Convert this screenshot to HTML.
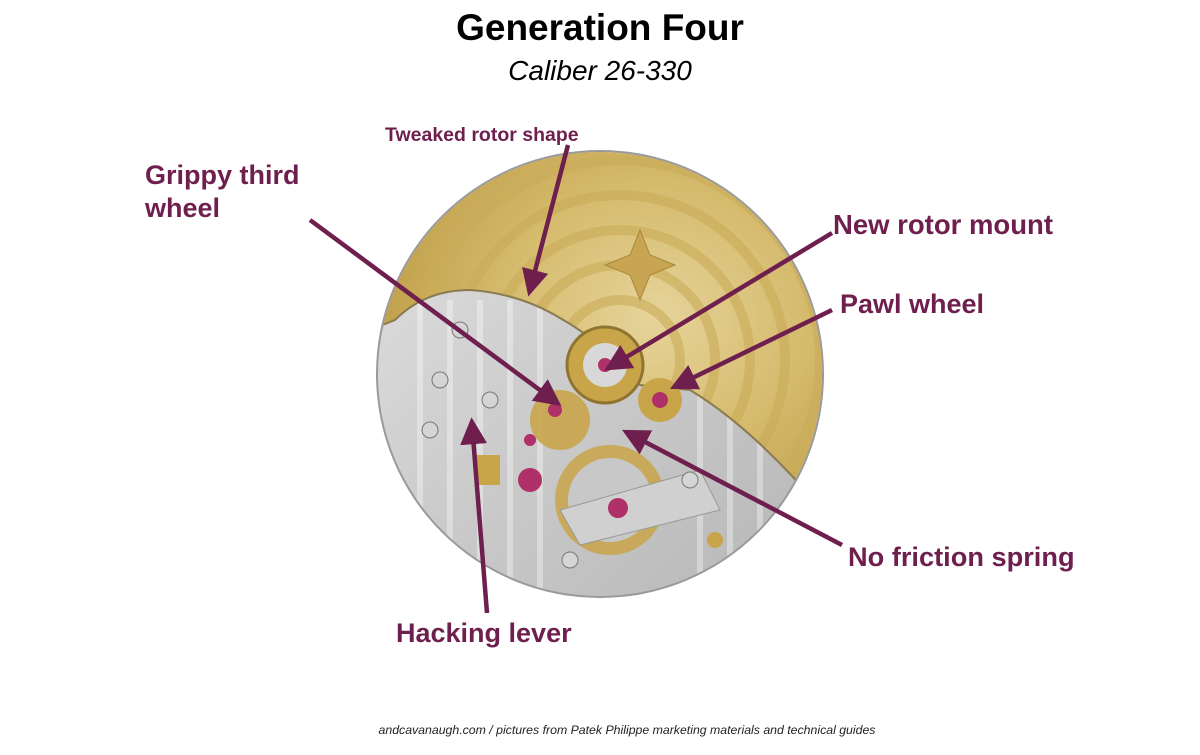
<!DOCTYPE html>
<html><head><meta charset="utf-8"><style>
html,body{margin:0;padding:0;background:#fff;}
body{width:1200px;height:750px;overflow:hidden;font-family:"Liberation Sans",sans-serif;}
</style></head><body>
<svg width="1200" height="750" viewBox="0 0 1200 750" xmlns="http://www.w3.org/2000/svg">
<defs>
<radialGradient id="gold" cx="0.62" cy="0.42" r="0.7">
<stop offset="0" stop-color="#e6d49a"/><stop offset="0.5" stop-color="#d4b96a"/><stop offset="1" stop-color="#b8963f"/>
</radialGradient>
<linearGradient id="silver" x1="0" y1="0" x2="1" y2="1">
<stop offset="0" stop-color="#e2e2e2"/><stop offset="0.5" stop-color="#cacaca"/><stop offset="1" stop-color="#b5b5b5"/>
</linearGradient>
<clipPath id="dial"><circle cx="600" cy="374" r="222"/></clipPath>
<clipPath id="rotor"><path d="M370,150 L830,150 L830,520 C790,470 740,420 690,390 L640,385 C620,360 590,335 560,318 C530,300 500,292 470,290 C440,290 415,300 395,320 L370,330 Z"/></clipPath>
<marker id="ah" markerWidth="6" markerHeight="6" refX="4.5" refY="3" orient="auto" markerUnits="strokeWidth">
<path d="M0,0 L6,3 L0,6 z" fill="#6e1f4e"/></marker>
</defs>

<text x="600" y="40" text-anchor="middle" font-size="37" font-weight="bold" fill="#000">Generation Four</text>
<text x="600" y="80" text-anchor="middle" font-size="28" font-style="italic" fill="#000">Caliber 26-330</text>

<circle cx="600" cy="374" r="224" fill="#9a9a9a"/>
<g clip-path="url(#dial)">
<rect x="370" y="150" width="460" height="460" fill="url(#silver)"/>
<g stroke="#ffffff" stroke-opacity="0.35" stroke-width="6">
<line x1="420" y1="300" x2="420" y2="600"/><line x1="450" y1="300" x2="450" y2="600"/>
<line x1="480" y1="300" x2="480" y2="600"/><line x1="510" y1="300" x2="510" y2="600"/>
<line x1="540" y1="300" x2="540" y2="600"/><line x1="700" y1="380" x2="700" y2="600"/>
<line x1="730" y1="380" x2="730" y2="600"/><line x1="760" y1="380" x2="760" y2="600"/>
</g>
<g clip-path="url(#rotor)">
<rect x="370" y="150" width="460" height="400" fill="url(#gold)"/>
<g fill="none" stroke="#c9ab58" stroke-width="10" stroke-opacity="0.6">
<circle cx="620" cy="360" r="60"/><circle cx="620" cy="360" r="95"/><circle cx="620" cy="360" r="130"/><circle cx="620" cy="360" r="165"/><circle cx="620" cy="360" r="200"/>
</g>
</g>
<path d="M830,520 C790,470 740,420 690,390 L640,385 C620,360 590,335 560,318 C530,300 500,292 470,290 C440,290 415,300 395,320 L370,330" fill="none" stroke="#8a7a50" stroke-width="2"/>
<path d="M640,230 l10,25 l25,10 l-25,10 l-10,25 l-10,-25 l-25,-10 l25,-10z" fill="#c7a552" stroke="#a88838"/>
<circle cx="605" cy="365" r="38" fill="#c9a54a" stroke="#8f7430" stroke-width="3"/>
<circle cx="605" cy="365" r="22" fill="#d8d8d8"/>
<circle cx="605" cy="365" r="7" fill="#b0306a"/>
<circle cx="660" cy="400" r="22" fill="#c9a54a"/><circle cx="660" cy="400" r="8" fill="#b0306a"/>
<circle cx="560" cy="420" r="30" fill="#c9a54a" opacity="0.9"/><circle cx="555" cy="410" r="7" fill="#b0306a"/>
<circle cx="610" cy="500" r="55" fill="#c9a54a" opacity="0.85"/>
<circle cx="610" cy="500" r="42" fill="#c8c8c8"/>
<path d="M560,510 L700,470 L720,510 L580,545z" fill="#d0d0d0" stroke="#999"/>
<circle cx="618" cy="508" r="10" fill="#b0306a"/>
<circle cx="530" cy="480" r="12" fill="#b0306a"/>
<circle cx="530" cy="440" r="6" fill="#b0306a"/>
<rect x="475" y="455" width="25" height="30" fill="#c9a54a"/>
<circle cx="715" cy="540" r="8" fill="#c9a54a"/>
<g fill="#d5d5d5" stroke="#777">
<circle cx="460" cy="330" r="8"/><circle cx="440" cy="380" r="8"/><circle cx="490" cy="400" r="8"/><circle cx="430" cy="430" r="8"/><circle cx="690" cy="480" r="8"/><circle cx="570" cy="560" r="8"/><circle cx="770" cy="540" r="8"/>
</g>
</g>

<g stroke="#6e1f4e" stroke-width="4.5" fill="none" marker-end="url(#ah)">
<line x1="568" y1="145" x2="530" y2="290"/>
<line x1="310" y1="220" x2="556" y2="402"/>
<line x1="832" y1="233" x2="610" y2="367"/>
<line x1="832" y1="310" x2="676" y2="386"/>
<line x1="842" y1="545" x2="628" y2="433"/>
<line x1="487" y1="613" x2="472" y2="424"/>
</g>

<g fill="#6e1f4e" font-weight="bold">
<text x="385" y="141" font-size="19.5">Tweaked rotor shape</text>
<text x="145" y="184" font-size="27">Grippy third</text>
<text x="145" y="217" font-size="27">wheel</text>
<text x="833" y="234" font-size="27.5">New rotor mount</text>
<text x="840" y="313" font-size="27">Pawl wheel</text>
<text x="848" y="566" font-size="27.2">No friction spring</text>
<text x="396" y="642" font-size="27">Hacking lever</text>
</g>
<text x="627" y="734" text-anchor="middle" font-size="12.3" font-style="italic" fill="#222">andcavanaugh.com / pictures from Patek Philippe marketing materials and technical guides</text>
</svg>
</body></html>
